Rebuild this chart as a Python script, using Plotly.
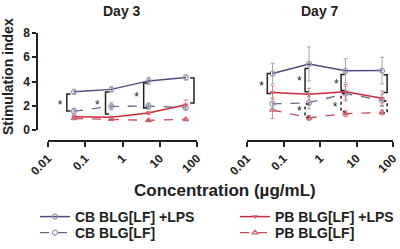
import math
import plotly.graph_objects as go

# ---------------- data ----------------
conc = [0.05, 0.5, 5, 50]
tick_vals = [0.01, 0.1, 1, 10, 100]
tick_text = ["0.01", "0.1", "1", "10", "100"]
y_tick_vals = [0, 2, 4, 6, 8]

names = ["CB BLG[LF] +LPS", "PB BLG[LF] +LPS", "CB BLG[LF]", "PB BLG[LF]"]

# Day 3
d3_cb_lps = [3.15, 3.35, 4.05, 4.33]
d3_cb_lps_err = [0.2, 0.2, 0.3, 0.2]
d3_pb_lps = [1.1, 1.05, 1.4, 2.08]
d3_pb_lps_err = [0.1, 0.1, 0.12, 0.4]
d3_cb = [1.55, 1.95, 1.97, 1.85]
d3_cb_err = [0.25, 0.3, 0.25, 0.2]
d3_pb = [0.95, 0.9, 0.8, 0.88]
d3_pb_err = [0.06, 0.06, 0.06, 0.06]

# Day 7
d7_cb_lps = [4.66, 5.45, 4.88, 4.9]
d7_cb_lps_err = [0.85, 1.4, 1.0, 1.1]
d7_pb_lps = [3.1, 2.95, 3.15, 2.62]
d7_pb_lps_err = [0.55, 0.5, 0.6, 0.6]
d7_cb = [2.15, 2.25, 3.0, 2.45]
d7_cb_err = [0.5, 0.5, 0.6, 0.5]
d7_pb = [1.65, 1.0, 1.35, 1.45]
d7_pb_err = [0.7, 0.2, 0.25, 0.2]

# significance brackets: x, top, bottom, side (+1 '[' / -1 ']'), dashed
d3_br_x = [0.032, 0.35, 3.7, 83]
d3_br_top = [2.96, 3.13, 3.87, 4.28]
d3_br_bot = [1.56, 1.32, 1.81, 2.22]
d3_br_side = [1, 1, 1, -1]
d3_br_dash = [False, False, False, False]
d3_star_x = [0.021, 0.21, 2.4, 112]
d3_star_y = [2.22, 2.22, 2.8, 3.37]

d7_br_x = [0.036, 0.39, 3.77, 69, 0.39, 3.77, 69]
d7_br_top = [4.67, 5.08, 4.58, 4.56, 2.14, 3.02, 2.39]
d7_br_bot = [3.02, 3.15, 3.25, 3.09, 1.05, 1.5, 1.42]
d7_br_side = [1, 1, 1, -1, 1, 1, -1]
d7_br_dash = [False, False, False, False, True, True, True]
d7_star_x = [0.025, 0.27, 2.8, 102, 0.27, 2.6, 110]
d7_star_y = [3.76, 4.12, 3.95, 3.84, 1.65, 1.98, 1.81]

# ---------------- styles ----------------
FONT = "Liberation Sans, Arial, sans-serif"
styles = {
    "CB BLG[LF] +LPS": dict(line=dict(color="#4d4d80", width=1.5),
                            marker=dict(symbol="circle-open", size=5, color="#9898b0", line=dict(width=1.2)),
                            err="#a6a6b4"),
    "PB BLG[LF] +LPS": dict(line=dict(color="#cc2a3c", width=1.5),
                            marker=dict(symbol="triangle-down", size=5, color="#d8606e"),
                            err="#d88894"),
    "CB BLG[LF]": dict(line=dict(color="#67678a", width=1.3, dash="dash"),
                       marker=dict(symbol="circle-open", size=5, color="#9898b0", line=dict(width=1.2)),
                       err="#a6a6b4"),
    "PB BLG[LF]": dict(line=dict(color="#c9485a", width=1.3, dash="dash"),
                       marker=dict(symbol="triangle-up-open", size=5, color="#d8606e", line=dict(width=1.2)),
                       err="#d88894"),
}
legend_of = {"CB BLG[LF] +LPS": "legend", "PB BLG[LF] +LPS": "legend2",
             "CB BLG[LF]": "legend3", "PB BLG[LF]": "legend4"}

fig = go.Figure()

day_data = [
    ("x", "y", [d3_cb_lps, d3_pb_lps, d3_cb, d3_pb],
     [d3_cb_lps_err, d3_pb_lps_err, d3_cb_err, d3_pb_err], True),
    ("x2", "y2", [d7_cb_lps, d7_pb_lps, d7_cb, d7_pb],
     [d7_cb_lps_err, d7_pb_lps_err, d7_cb_err, d7_pb_err], False),
]
draw_order = [3, 2, 1, 0]
for xa, ya, vals, errs, show in day_data:
    for i in draw_order:
        nm = names[i]
        st = styles[nm]
        fig.add_trace(go.Scatter(
            x=conc, y=vals[i], mode="lines+markers", name=nm,
            line=st["line"], marker=st["marker"],
            error_y=dict(type="data", array=errs[i], color=st["err"], thickness=1, width=2),
            xaxis=xa, yaxis=ya, showlegend=show, legend=legend_of[nm],
        ))


def add_brackets(xa, ya, bx, btop, bbot, bside, bdash):
    for x, t, b, s, d in zip(bx, btop, bbot, bside, bdash):
        xt = x * 10 ** (0.1 * s)
        fig.add_trace(go.Scatter(
            x=[xt, x, x, xt], y=[t, t, b, b], mode="lines",
            line=dict(color="#222222", width=1.5, dash="dot" if d else "solid"),
            showlegend=False, hoverinfo="skip", xaxis=xa, yaxis=ya))


def add_stars(xa, ya, sx, sy):
    fig.add_trace(go.Scatter(
        x=sx, y=[v - 0.2 for v in sy], mode="text", text=["*"] * len(sx),
        textfont=dict(family=FONT, size=12, color="#222222"), cliponaxis=False,
        showlegend=False, hoverinfo="skip", xaxis=xa, yaxis=ya))


add_brackets("x", "y", d3_br_x, d3_br_top, d3_br_bot, d3_br_side, d3_br_dash)
add_brackets("x2", "y2", d7_br_x, d7_br_top, d7_br_bot, d7_br_side, d7_br_dash)
add_stars("x", "y", d3_star_x, d3_star_y)
add_stars("x2", "y2", d7_star_x, d7_star_y)

W, H = 400, 249
ydom = [1 - 130 / H, 1 - 33 / H]
xpos = 1 - 141 / H

xcommon = dict(type="log", range=[-2, 2], anchor="free", position=xpos,
               showline=True, linecolor="#222222", linewidth=1.5,
               ticks="outside", ticklen=5, tickwidth=1.5, tickcolor="#222222",
               tickvals=tick_vals, ticktext=tick_text, tickangle=-45,
               tickfont=dict(family=FONT, size=12, color="#222222", weight="bold"),
               ticklabeloverflow="allow",
               showgrid=False, zeroline=False, automargin=False)

leg_common = dict(xanchor="left", yanchor="middle", bgcolor="rgba(0,0,0,0)",
                  font=dict(family=FONT, size=14, color="#222222", weight="bold"),
                  itemwidth=30, borderwidth=0)

ann_common = dict(xref="paper", yref="paper", xanchor="center", yanchor="middle",
                  showarrow=False)

fig.update_layout(
    width=W, height=H, template="none",
    margin=dict(l=0, r=0, t=0, b=0, autoexpand=False),
    paper_bgcolor="white", plot_bgcolor="white",
    font=dict(family=FONT, color="#222222"),
    hovermode=False,
    xaxis=dict(domain=[48 / W, 197 / W], **xcommon),
    xaxis2=dict(domain=[247 / W, 393 / W], **xcommon),
    yaxis=dict(domain=ydom, range=[0, 8], anchor="free", position=37 / W,
               showline=True, linecolor="#222222", linewidth=1.5,
               ticks="outside", ticklen=4, tickwidth=1.5, tickcolor="#222222",
               tickvals=y_tick_vals,
               tickfont=dict(family=FONT, size=12, color="#222222", weight="bold"),
               ticklabeloverflow="allow",
               showgrid=False, zeroline=False, automargin=False),
    yaxis2=dict(domain=ydom, range=[0, 8], anchor="x2", visible=False),
    legend=dict(x=35 / W, y=1 - 217 / H, **leg_common),
    legend2=dict(x=235 / W, y=1 - 217 / H, **leg_common),
    legend3=dict(x=35 / W, y=1 - 233 / H, **leg_common),
    legend4=dict(x=235 / W, y=1 - 233 / H, **leg_common),
    annotations=[
        dict(text="Day 3", x=122 / W, y=1 - 11 / H, font=dict(family=FONT, size=14, weight="bold"), **ann_common),
        dict(text="Day 7", x=320 / W, y=1 - 11 / H, font=dict(family=FONT, size=14, weight="bold"), **ann_common),
        dict(text="Stimulation index", x=8 / W, y=1 - 77 / H, textangle=-90,
             font=dict(family=FONT, size=14, weight="bold"), **ann_common),
        dict(text="Concentration (µg/mL)", x=225 / W, y=1 - 190 / H,
             font=dict(family=FONT, size=17, weight="bold"), **ann_common),
    ],
)

fig.write_html("out.html", config={"displayModeBar": False},
               post_script="document.body.style.margin='0';document.body.style.overflow='hidden';")
